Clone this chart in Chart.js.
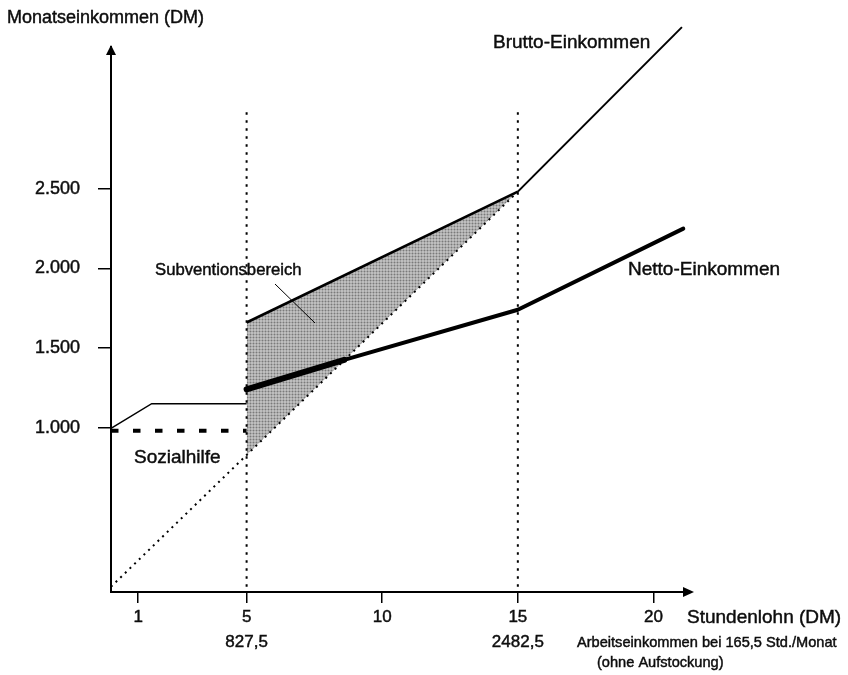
<!DOCTYPE html>
<html>
<head>
<meta charset="utf-8">
<script src="https://cdn.jsdelivr.net/npm/chart.js@4/dist/chart.umd.min.js"></script>
<style>
  html, body { margin: 0; padding: 0; background: #ffffff; }
  #wrap { width: 848px; height: 675px; position: relative; }
</style>
</head>
<body>
<div id="wrap"><canvas id="c"></canvas></div>
<script>
// ---- data ----
const xTicks = [1, 5, 10, 15, 20];
const xTickEarnings = ['', '827,5', '', '2482,5', ''];
const yTicks = [1000, 1500, 2000, 2500];

const sozialhilfeX = [0, 5];
const sozialhilfeY = [980, 980];

const bruttoLowX = [0, 1.5, 5];
const bruttoLowY = [995, 1150, 1150];

const bruttoHighX = [5, 15, 21.05];
const bruttoHighY = [1660, 2482.5, 3516];

const nettoX = [5, 8.6, 15, 21.1];
const nettoY = [1240, 1425, 1740, 2250];

const arbeitX = [0, 15];
const arbeitY = [0, 2482.5];

const markerX = [5, 15];
const markerTop = 3010;

const subX = [5, 15];
const subUpperY = [1660, 2482.5];
const subLowerY = [827.5, 2482.5];

// ---- helpers ----
const pts = (xs, ys) => xs.map((x, i) => ({ x: x, y: ys[i] }));
const FONT = '"Liberation Sans", Arial, Helvetica, sans-serif';
Chart.defaults.font.family = FONT;
Chart.defaults.color = '#0d0d0d';

function makePattern() {
  const c = document.createElement('canvas');
  c.width = 3; c.height = 3;
  const g = c.getContext('2d');
  g.fillStyle = '#bebebe'; g.fillRect(0, 0, 3, 3);
  g.fillStyle = '#a4a4a4'; g.fillRect(0, 1, 3, 1); g.fillRect(1, 0, 1, 3);
  g.fillStyle = '#7a7a7a'; g.fillRect(1, 1, 1, 1);
  return g.createPattern(c, 'repeat');
}
const shade = makePattern();

const lineBase = { showLine: true, pointRadius: 0, pointHoverRadius: 0, fill: false, clip: false, borderColor: '#000', tension: 0 };

const datasets = [
  Object.assign({}, lineBase, { label: 'Netto-Einkommen', data: pts(nettoX, nettoY), borderWidth: 4, borderCapStyle: 'round', borderJoinStyle: 'round',
    segment: { borderWidth: ctx => ctx.p0DataIndex === 0 ? 6 : 4 } }),
  Object.assign({}, lineBase, { label: 'Brutto-Einkommen', data: pts(bruttoHighX, bruttoHighY), borderWidth: 2,
    segment: { borderWidth: ctx => ctx.p0DataIndex === 0 ? 2.6 : 2 } }),
  Object.assign({}, lineBase, { label: 'Brutto (niedrig)', data: pts(bruttoLowX, bruttoLowY), borderWidth: 1.5 }),
  Object.assign({}, lineBase, { label: 'Sozialhilfe', data: pts(sozialhilfeX, sozialhilfeY), borderWidth: 4, borderDash: [7.5, 14.5] }),
  Object.assign({}, lineBase, { label: 'Arbeitseinkommen', data: pts(arbeitX, arbeitY), borderWidth: 2, borderDash: [2, 4.5] }),
  Object.assign({}, lineBase, { label: 'Marke 5', data: pts([markerX[0], markerX[0]], [0, markerTop]), borderWidth: 2, borderDash: [2.5, 5.5] }),
  Object.assign({}, lineBase, { label: 'Marke 15', data: pts([markerX[1], markerX[1]], [0, markerTop]), borderWidth: 2, borderDash: [2.5, 5.5] }),
  Object.assign({}, lineBase, { label: 'Subventionsbereich', data: pts(subX, subUpperY), borderWidth: 0, borderColor: 'rgba(0,0,0,0)', backgroundColor: shade, fill: { target: 8 } }),
  Object.assign({}, lineBase, { label: 'Subventionsbereich unten', data: pts(subX, subLowerY), borderWidth: 0, borderColor: 'rgba(0,0,0,0)' })
];

const annotations = {
  id: 'annotations',
  afterDraw(chart) {
    const ctx = chart.ctx;
    const ca = chart.chartArea;
    ctx.save();
    ctx.fillStyle = '#000';
    // arrowheads
    ctx.beginPath();
    ctx.moveTo(ca.left, 45); ctx.lineTo(ca.left - 5, 55); ctx.lineTo(ca.left + 5, 55); ctx.closePath(); ctx.fill();
    ctx.beginPath();
    ctx.moveTo(694, ca.bottom); ctx.lineTo(683, ca.bottom - 5); ctx.lineTo(683, ca.bottom + 5); ctx.closePath(); ctx.fill();
    // leader line for Subventionsbereich
    ctx.strokeStyle = '#000'; ctx.lineWidth = 1;
    ctx.beginPath(); ctx.moveTo(275, 284); ctx.lineTo(315, 323); ctx.stroke();
    // texts
    ctx.textBaseline = 'middle';
    ctx.textAlign = 'left';
    ctx.fillStyle = '#0d0d0d';
    ctx.strokeStyle = '#0d0d0d';
    ctx.lineWidth = 0.45;
    const t = (s, x, y, size) => { ctx.font = size + 'px ' + FONT; ctx.fillText(s, x, y); ctx.strokeText(s, x, y); };
    t('Monatseinkommen (DM)', 7, 18, 18);
    t('Brutto-Einkommen', 493, 43, 19);
    t('Netto-Einkommen', 628, 270, 19);
    t('Subventionsbereich', 155, 270, 16.7);
    t('Sozialhilfe', 134, 458, 19);
    t('Stundenlohn (DM)', 687, 618, 19);
    t('Arbeitseinkommen bei 165,5 Std./Monat', 577, 643, 14.6);
    t('(ohne Aufstockung)', 597, 663, 14.6);
    ctx.restore();
  }
};

new Chart(document.getElementById('c'), {
  type: 'scatter',
  data: { datasets: datasets },
  options: {
    responsive: true,
    maintainAspectRatio: false,
    animation: false,
    events: [],
    layout: { padding: { top: 47, right: 162, bottom: 0, left: 0 } },
    plugins: { legend: { display: false }, tooltip: { enabled: false } },
    scales: {
      x: {
        type: 'linear', min: 0, max: 21.2,
        afterFit: s => { s.height = 83; },
        afterBuildTicks: s => { s.ticks = xTicks.map(v => ({ value: v })); },
        grid: { display: true, drawOnChartArea: false, drawTicks: true, tickLength: 11, color: '#000', lineWidth: 1.5 },
        border: { display: true, color: '#000', width: 2 },
        ticks: {
          autoSkip: false, maxRotation: 0, padding: 2, color: '#0d0d0d',
          textStrokeColor: '#0d0d0d', textStrokeWidth: 0.45,
          font: { size: 17, lineHeight: 1.47 },
          callback: (v) => { const i = xTicks.indexOf(v); return (i >= 0 && xTickEarnings[i]) ? [String(v), xTickEarnings[i]] : String(v); }
        }
      },
      y: {
        type: 'linear', min: -33, max: 3391,
        afterFit: s => { s.width = 111; },
        afterBuildTicks: s => { s.ticks = yTicks.map(v => ({ value: v })); },
        grid: { display: true, drawOnChartArea: false, drawTicks: true, tickLength: 13, color: '#000', lineWidth: 1.5 },
        border: { display: true, color: '#000', width: 2 },
        ticks: {
          padding: 18, color: '#0d0d0d', font: { size: 18 },
          textStrokeColor: '#0d0d0d', textStrokeWidth: 0.45,
          callback: (v) => String(v).replace(/\B(?=(\d{3})+(?!\d))/g, '.')
        }
      }
    }
  },
  plugins: [annotations]
});
</script>
</body>
</html>
